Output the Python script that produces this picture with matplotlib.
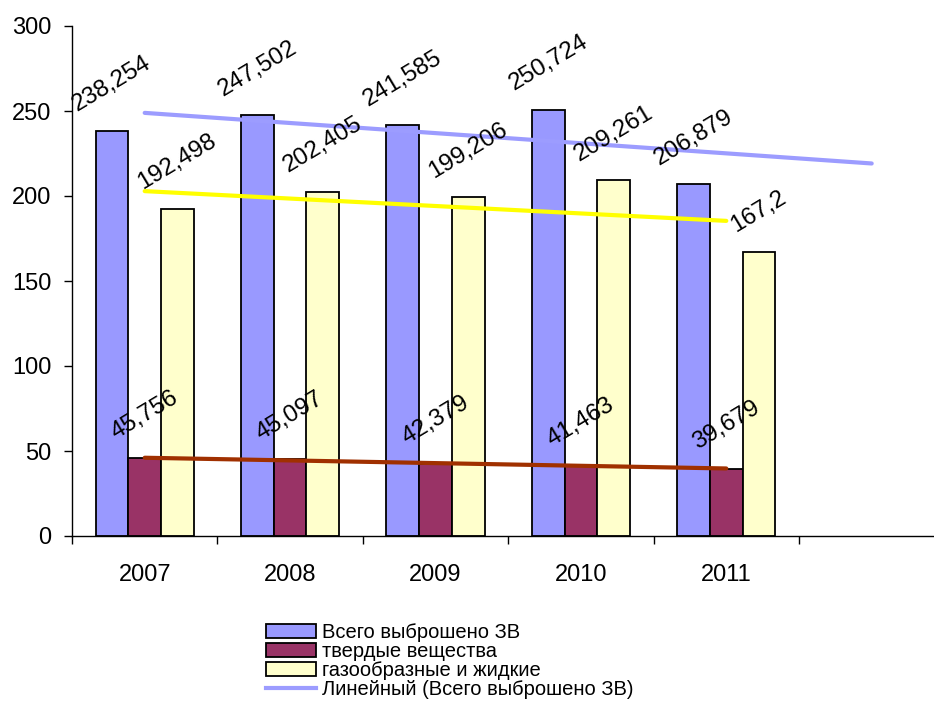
import matplotlib
matplotlib.use("Agg")
import matplotlib.pyplot as plt
import numpy as np
from matplotlib.lines import Line2D
from matplotlib.patches import Patch

plt.rcParams["font.family"] = ["Liberation Sans", "DejaVu Sans"]

years = ["2007", "2008", "2009", "2010", "2011"]
total = [238.254, 247.502, 241.585, 250.724, 206.879]
solid = [45.756, 45.097, 42.379, 41.463, 39.679]
gaseous = [192.498, 202.405, 199.206, 209.261, 167.2]

series_names = ["Всего выброшено ЗВ", "твердые вещества", "газообразные и жидкие"]
trend_name = "Линейный (Всего выброшено ЗВ)"

bar_colors = ["#9999FF", "#993366", "#FFFFCC"]
trend_colors = ["#9C9CFF", "#A03000", "#FFFF00"]


def fmt(v):
    return f"{v:g}".replace(".", ",")


fig = plt.figure(figsize=(9.34, 7.02), dpi=100)
slot = 145.4
ax = fig.add_axes([72 / 934, 166 / 702, 6 * slot / 934, 510 / 702])

x = np.arange(len(years))
width = 0.2247
for i, (vals, color) in enumerate(zip([total, solid, gaseous], bar_colors)):
    pos = x + (i - 1) * width
    ax.bar(pos, vals, width, color=color, edgecolor="black", linewidth=1.3, zorder=2)
    for px, v in zip(pos, vals):
        ax.annotate(fmt(v), (px, v), xytext=(0, 15), textcoords="offset pixels",
                    ha="center", va="bottom", rotation=31, fontsize=17.5, zorder=5)

# linear trends; the total one is projected one period ahead
for vals, color, ahead in zip([total, solid, gaseous], trend_colors, [1, 0, 0]):
    k, b = np.polyfit(x, vals, 1)
    tx = np.array([0, len(years) - 1 + ahead])
    ax.plot(tx, k * tx + b, color=color, linewidth=3, solid_capstyle="round", zorder=4)

ax.set_xlim(-0.5, 5.5)
ax.set_ylim(0, 300)
ax.set_yticks(range(0, 301, 50))
ax.tick_params(axis="y", length=6, width=1, pad=9, labelsize=17)

ax.set_xticks(np.arange(-0.5, 6, 1))
ax.set_xticklabels([])
ax.set_xticks(x, minor=True)
ax.set_xticklabels(years, minor=True)
ax.tick_params(axis="x", which="major", length=6, width=1)
ax.tick_params(axis="x", which="minor", length=0, pad=20, labelsize=17)

for side in ["top", "right"]:
    ax.spines[side].set_visible(False)
for side in ["left", "bottom"]:
    ax.spines[side].set_linewidth(1)

handles = [Patch(facecolor=c, edgecolor="black", linewidth=1.3) for c in bar_colors]
handles.append(Line2D([], [], color=trend_colors[0], linewidth=3))
fig.legend(handles, series_names + [trend_name], loc="upper left",
           bbox_to_anchor=(266 / 934, 1 - 623 / 702), frameon=False,
           fontsize=14.5, labelspacing=0.0, handlelength=2.5, handletextpad=0.3,
           borderpad=0, borderaxespad=0)

fig.savefig("out.png", dpi=100)
